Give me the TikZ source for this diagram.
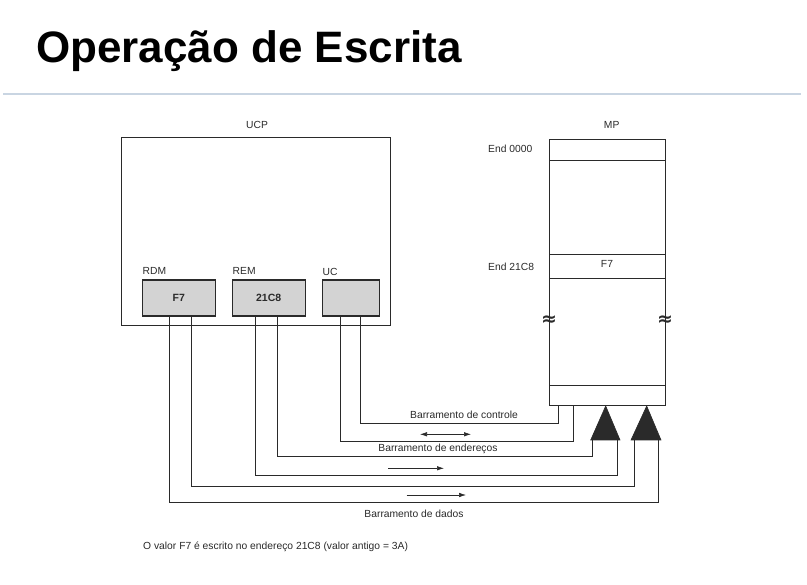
\documentclass[tikz,border=0pt]{standalone}
\usepackage{fontspec}
\setmainfont{Liberation Sans}
\newfontfamily\symfont{DejaVu Sans}
\usetikzlibrary{arrows.meta,calc}
\definecolor{ink}{HTML}{2A2A2A}
\definecolor{regfill}{HTML}{D3D3D3}
\definecolor{rule}{HTML}{C9D5E2}
\tikzset{
  lbl/.style={font=\fontsize{10.3}{12}\selectfont, text=ink, inner sep=0pt},
  regbox/.style={draw=ink, line width=1.1pt, fill=regfill, inner sep=0pt, minimum height=36pt,
     font=\fontsize{10.5}{12}\selectfont\bfseries, text=ink},
  outer/.style={draw=ink, line width=0.9pt, inner sep=0pt},
  bus/.style={draw=ink, line width=0.8pt},
  flow/.style={draw=ink, line width=0.6pt, -{Latex[length=7pt,width=4.5pt]}},
  flow2/.style={draw=ink, line width=0.6pt, {Latex[length=7pt,width=4.5pt]}-{Latex[length=7pt,width=4.5pt]}},
  bigtip/.style={fill=ink, draw=ink, line width=0.6pt},
  brk/.style={inner sep=0pt, font=\symfont\bfseries\fontsize{19}{19}\selectfont, text=ink},
}
\begin{document}
\begin{tikzpicture}[x=1pt,y=-1pt]
\useasboundingbox (0,0) rectangle (807,585);
\fill[white] (0,0) rectangle (807,585);
% title
\node[anchor=base west, inner sep=0pt, font=\fontsize{44}{50}\selectfont\bfseries] (title) at (36,62.5) {Operação de Escrita};
\draw[rule, line width=1.6pt] (3,94) -- (801,94);

% UCP
\node[outer, minimum width=269pt, minimum height=188pt] (ucp) at (255.5,231) {};
\node[lbl] (ucplbl) at (257,125) {UCP};
\node[regbox, minimum width=73pt] (rdm) at (178.8,298) {F7};
\node[regbox, minimum width=72.7pt] (rem) at (268.7,298) {21C8};
\node[regbox, minimum width=57pt] (uc) at (350.8,298) {};
\node[lbl, anchor=south west] (rdml) at (142.5,275) {RDM};
\node[lbl, anchor=south west] (reml) at (232.5,275) {REM};
\node[lbl, anchor=south west] (ucl) at (322.5,275.5) {UC};

% MP
\node[outer, minimum width=116pt, minimum height=266pt] (mp) at (607,272) {};
\node[lbl] (mplbl) at (611.7,125) {MP};
\draw[bus] (549,160) -- (665,160);
\draw[bus] (549,254) -- (665,254);
\draw[bus] (549,278) -- (665,278);
\draw[bus] (549,385) -- (665,385);
\node[lbl, anchor=west] (e0) at (488,149) {End 0000};
\node[lbl, anchor=west] (e21) at (488,267) {End 21C8};
\node[lbl] (f7m) at (607,264) {F7};
\node[brk] (apl) at (549,321) {≈};
\node[brk] (apr) at (665,321) {≈};

% big triangles
\coordinate (t1) at (592.3,440);
\coordinate (t2) at (617.3,440);
\coordinate (t3) at (634.3,440);
\coordinate (t4) at (658.3,440);
\coordinate (c1) at (558.3,405);
\coordinate (c2) at (573.3,405);
\draw[bigtip] (590.7,440) -- (605.7,406) -- (620,440) -- cycle;
\draw[bigtip] (631,440) -- (646.7,406) -- (661,440) -- cycle;

% buses
\draw[bus] ([xshift=9.2pt]uc.south) |- (558.3,423) -- (c1);
\draw[bus] ([xshift=-10.8pt]uc.south) |- (573.3,441) -- (c2);
\draw[bus] ([xshift=9pt]rem.south) |- (592.3,456.7) -- (t1);
\draw[bus] ([xshift=-13.7pt]rem.south) |- (617.3,475) -- (t2);
\draw[bus] ([xshift=12.2pt]rdm.south) |- (634.3,486) -- (t3);
\draw[bus] ([xshift=-9.8pt]rdm.south) |- (658.3,502.7) -- (t4);

% bus labels and arrows
\node[lbl] (lctl) at (464,414.5) {Barramento de controle};
\node[lbl] (lend) at (438,448.5) {Barramento de endereços};
\node[lbl] (ldad) at (414,514) {Barramento de dados};
\coordinate (a1s) at (420,434.3); \coordinate (a1e) at (471,434.3);
\coordinate (a2s) at (388,468.3); \coordinate (a2e) at (444,468.3);
\coordinate (a3s) at (406.7,495); \coordinate (a3e) at (466,495);
\draw[flow2] (a1s) -- (a1e);
\draw[flow] (a2s) -- (a2e);
\draw[flow] (a3s) -- (a3e);

% caption
\node[lbl, anchor=west, font=\fontsize{10.3}{12}\selectfont] (cap) at (143,547) {O valor F7 é escrito no endereço 21C8 (valor antigo = 3A)};
\end{tikzpicture}
\end{document}
